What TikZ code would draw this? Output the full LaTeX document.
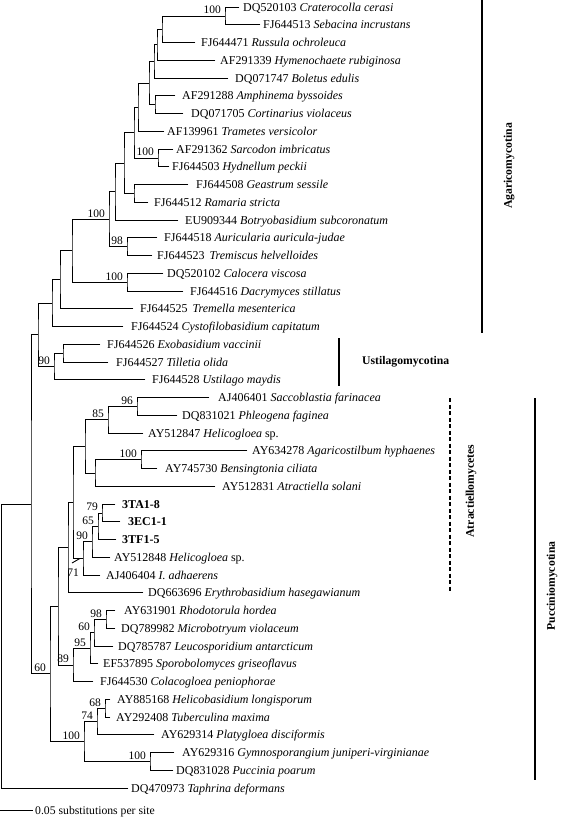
\documentclass[tikz,border=0pt]{standalone}
\usepackage{fontspec}
\setmainfont{Liberation Serif}
\usetikzlibrary{calc}
\newcommand\lf[4]{\coordinate (l#1) at (#2,{7+17.75*(#1-1)});
  \node[leaf] (t#1) at (#3,{7+17.75*(#1-1)+4}) {#4};}
\begin{document}
\begin{tikzpicture}[x=1pt,y=-1pt,
  leaf/.style={anchor=base west,inner sep=0pt,font=\fontsize{12}{13}\selectfont},
  bs/.style={anchor=base east,inner sep=0pt,font=\fontsize{11.5}{13}\selectfont},
  br/.style={line width=0.8pt,line cap=rect},
  cladebar/.style={line width=1.6pt},
  cladename/.style={inner sep=0pt,font=\fontsize{11.7}{13}\selectfont\bfseries}]
\useasboundingbox (0,0) rectangle (560,817);
% leaves
\lf{1}{239}{243}{DQ520103 \textit{Craterocolla cerasi}}
\lf{2}{260}{263}{FJ644513 \textit{Sebacina incrustans}}
\lf{3}{195}{201}{FJ644471 \textit{Russula ochroleuca}}
\lf{4}{215}{220}{AF291339 \textit{Hymenochaete rubiginosa}}
\lf{5}{228}{235}{DQ071747 \textit{Boletus edulis}}
\lf{6}{175}{182}{AF291288 \textit{Amphinema byssoides}}
\lf{7}{183}{191}{DQ071705 \textit{Cortinarius violaceus}}
\lf{8}{164}{167}{AF139961 \textit{Trametes versicolor}}
\lf{9}{173}{176}{AF291362 \textit{Sarcodon imbricatus}}
\lf{10}{169}{172}{FJ644503 \textit{Hydnellum peckii}}
\lf{11}{188}{196}{FJ644508 \textit{Geastrum sessile}}
\lf{12}{148}{154}{FJ644512 \textit{Ramaria stricta}}
\lf{13}{178}{185}{EU909344 \textit{Botryobasidium subcoronatum}}
\lf{14}{157}{164}{FJ644518 \textit{Auricularia auricula-judae}}
\lf{15}{152}{157}{FJ644523\hspace{5pt}\textit{Tremiscus helvelloides}}
\lf{16}{163}{167}{DQ520102 \textit{Calocera viscosa}}
\lf{17}{183}{190}{FJ644516 \textit{Dacrymyces stillatus}}
\lf{18}{133}{140}{FJ644525\hspace{5pt}\textit{Tremella mesenterica}}
\lf{19}{123}{131}{FJ644524 \textit{Cystofilobasidium capitatum}}
\lf{20}{100}{107}{FJ644526 \textit{Exobasidium vaccinii}}
\lf{21}{108}{116}{FJ644527 \textit{Tilletia olida}}
\lf{22}{145}{152}{FJ644528 \textit{Ustilago maydis}}
\lf{23}{209}{218}{AJ406401 \textit{Saccoblastia farinacea}}
\lf{24}{177}{182}{DQ831021 \textit{Phleogena faginea}}
\lf{25}{143}{148}{AY512847 \textit{Helicogloea} sp.}
\lf{26}{247}{252}{AY634278 \textit{Agaricostilbum hyphaenes}}
\lf{27}{157}{165}{AY745730 \textit{Bensingtonia ciliata}}
\lf{28}{215}{222}{AY512831 \textit{Atractiella solani}}
\lf{29}{115}{122}{\textbf{3TA1-8}}
\lf{30}{120}{128}{\textbf{3EC1-1}}
\lf{31}{116}{122}{\textbf{3TF1-5}}
\lf{32}{110}{114}{AY512848 \textit{Helicogloea} sp.}
\lf{33}{100}{106}{AJ406404 \textit{I. adhaerens}}
\lf{34}{143}{148}{DQ663696 \textit{Erythrobasidium hasegawianum}}
\lf{35}{115}{124}{AY631901 \textit{Rhodotorula hordea}}
\lf{36}{115}{121}{DQ789982 \textit{Microbotryum violaceum}}
\lf{37}{113}{118}{DQ785787 \textit{Leucosporidium antarcticum}}
\lf{38}{98}{103}{EF537895 \textit{Sporobolomyces griseoflavus}}
\lf{39}{93}{100}{FJ644530 \textit{Colacogloea peniophorae}}
\lf{40}{110}{117}{AY885168 \textit{Helicobasidium longisporum}}
\lf{41}{110}{116}{AY292408 \textit{Tuberculina maxima}}
\lf{42}{154}{161}{AY629314 \textit{Platygloea disciformis}}
\lf{43}{174}{182}{AY629316 \textit{Gymnosporangium juniperi-virginianae}}
\lf{44}{173}{176}{DQ831028 \textit{Puccinia poarum}}
\lf{45}{128}{131}{DQ470973 \textit{Taphrina deformans}}
% internal nodes
\coordinate (A1) at (225,15.9);
\coordinate (A2) at (162,29.2);
\coordinate (A3) at (157,44.7);
\coordinate (A4) at (154,61.4);
\coordinate (A5) at (155,104.6);
\coordinate (A6) at (149,83.0);
\coordinate (A7) at (138,107.1);
\coordinate (A8) at (158,157.9);
\coordinate (A9) at (134,132.5);
\coordinate (A10) at (134,193.4);
\coordinate (A11) at (124,163.0);
\coordinate (A12) at (115,191.5);
\coordinate (G) at (109,219.0);
\coordinate (H98) at (127,246.6);
\coordinate (H100) at (127,282.1);
\coordinate (F) at (72,250.6);
\coordinate (E) at (60,279.7);
\coordinate (D) at (52,303.1);
\coordinate (U1) at (63,353.1);
\coordinate (U90) at (54,366.4);
\coordinate (C) at (38,334.8);
\coordinate (B96) at (137,406.4);
\coordinate (B85) at (108,419.7);
\coordinate (B100) at (141,459.6);
\coordinate (B95) at (95,472.9);
\coordinate (T) at (85,446.3);
\coordinate (N79) at (102,512.9);
\coordinate (N65) at (98,526.2);
\coordinate (N90) at (92,541.7);
\coordinate (N71) at (83,558.4);
\coordinate (S) at (73,502.4);
\coordinate (R) at (68,547.6);
\coordinate (M98) at (106,619.4);
\coordinate (M60) at (94,632.7);
\coordinate (M95) at (90,648.2);
\coordinate (M89) at (73,664.9);
\coordinate (Q) at (58,606.2);
\coordinate (P68) at (105,708.1);
\coordinate (P74) at (97,721.4);
\coordinate (P100b) at (150,761.4);
\coordinate (P100) at (84,741.4);
\coordinate (P) at (50,673.8);
\coordinate (Bn) at (31,504.3);
\coordinate (Root) at (1.5,646);
% branches
\foreach \p/\a/\b in {A1/l1/l2,A2/A1/l3,A3/A2/l4,A4/A3/l5,A5/l6/l7,A6/A4/A5,A7/A6/l8,
  A8/l9/l10,A9/A7/A8,A10/l11/l12,A11/A9/A10,A12/A11/l13,G/A12/H98,H98/l14/l15,
  H100/l16/l17,F/G/H100,E/F/l18,D/E/l19,U1/l20/l21,U90/U1/l22,C/D/U90,Bn/C/P,
  B96/l23/l24,B85/B96/l25,B100/l26/l27,B95/B100/l28,T/B85/B95,N79/l29/l30,
  N65/N79/l31,N90/N65/l32,N71/N90/l33,S/T/N71,R/S/l34,M98/l35/l36,M60/M98/l37,
  M95/M60/l38,M89/M95/l39,Q/R/M89,P68/l40/l41,P74/P68/l42,P100b/l43/l44,
  P100/P74/P100b,P/Q/P100,Root/Bn/l45}
  \draw[br] (\a) -| (\p) |- (\b);
% bootstrap values
\foreach \n/\v in {A1/100,A8/100,G/100,H98/98,H100/100,U90/90,B96/96,B85/85,
  B100/100,N79/79,N65/65,N90/90,M98/98,M60/60,M95/95,M89/89,P68/68,P74/74,
  P100/100,P100b/100,P/60}
  \node[bs] (bs\n) at ($(\n)+(-4,-2)$) {\v};
\node[bs] (bsN71) at (79,576) {71};
\coordinate (tk1) at (72,563);
\coordinate (tk2) at (80,558.4);
\draw[line width=0.9pt] (tk1) -- (tk2);
% scale bar
\coordinate (sb1) at (0,810);
\coordinate (sb2) at (33,810);
\draw[br,line cap=butt] (sb1) -- (sb2);
\node[leaf,font=\fontsize{11.7}{13}\selectfont] (sbt) at (35,814) {0.05 substitutions per site};
% clade bars
\coordinate (ag1) at (482,0);
\coordinate (ag2) at (482,333);
\draw[cladebar] (ag1) -- (ag2);
\node[cladename,rotate=90] (agt) at (509,166) {Agaricomycotina};
\coordinate (us1) at (339,338);
\coordinate (us2) at (339,386);
\draw[cladebar] (us1) -- (us2);
\node[cladename,anchor=west] (ust) at (362,362) {Ustilagomycotina};
\coordinate (at1) at (450,398);
\coordinate (at2) at (450,592);
\draw[line width=1.3pt,dash pattern=on 4pt off 2.5pt] (at1) -- (at2);
\node[cladename,rotate=90] (att) at (471,491) {Atractiellomycetes};
\coordinate (pu1) at (535,398);
\coordinate (pu2) at (535,780);
\draw[cladebar] (pu1) -- (pu2);
\node[cladename,rotate=90] (put) at (552,586) {Pucciniomycotina};
\end{tikzpicture}
\end{document}
